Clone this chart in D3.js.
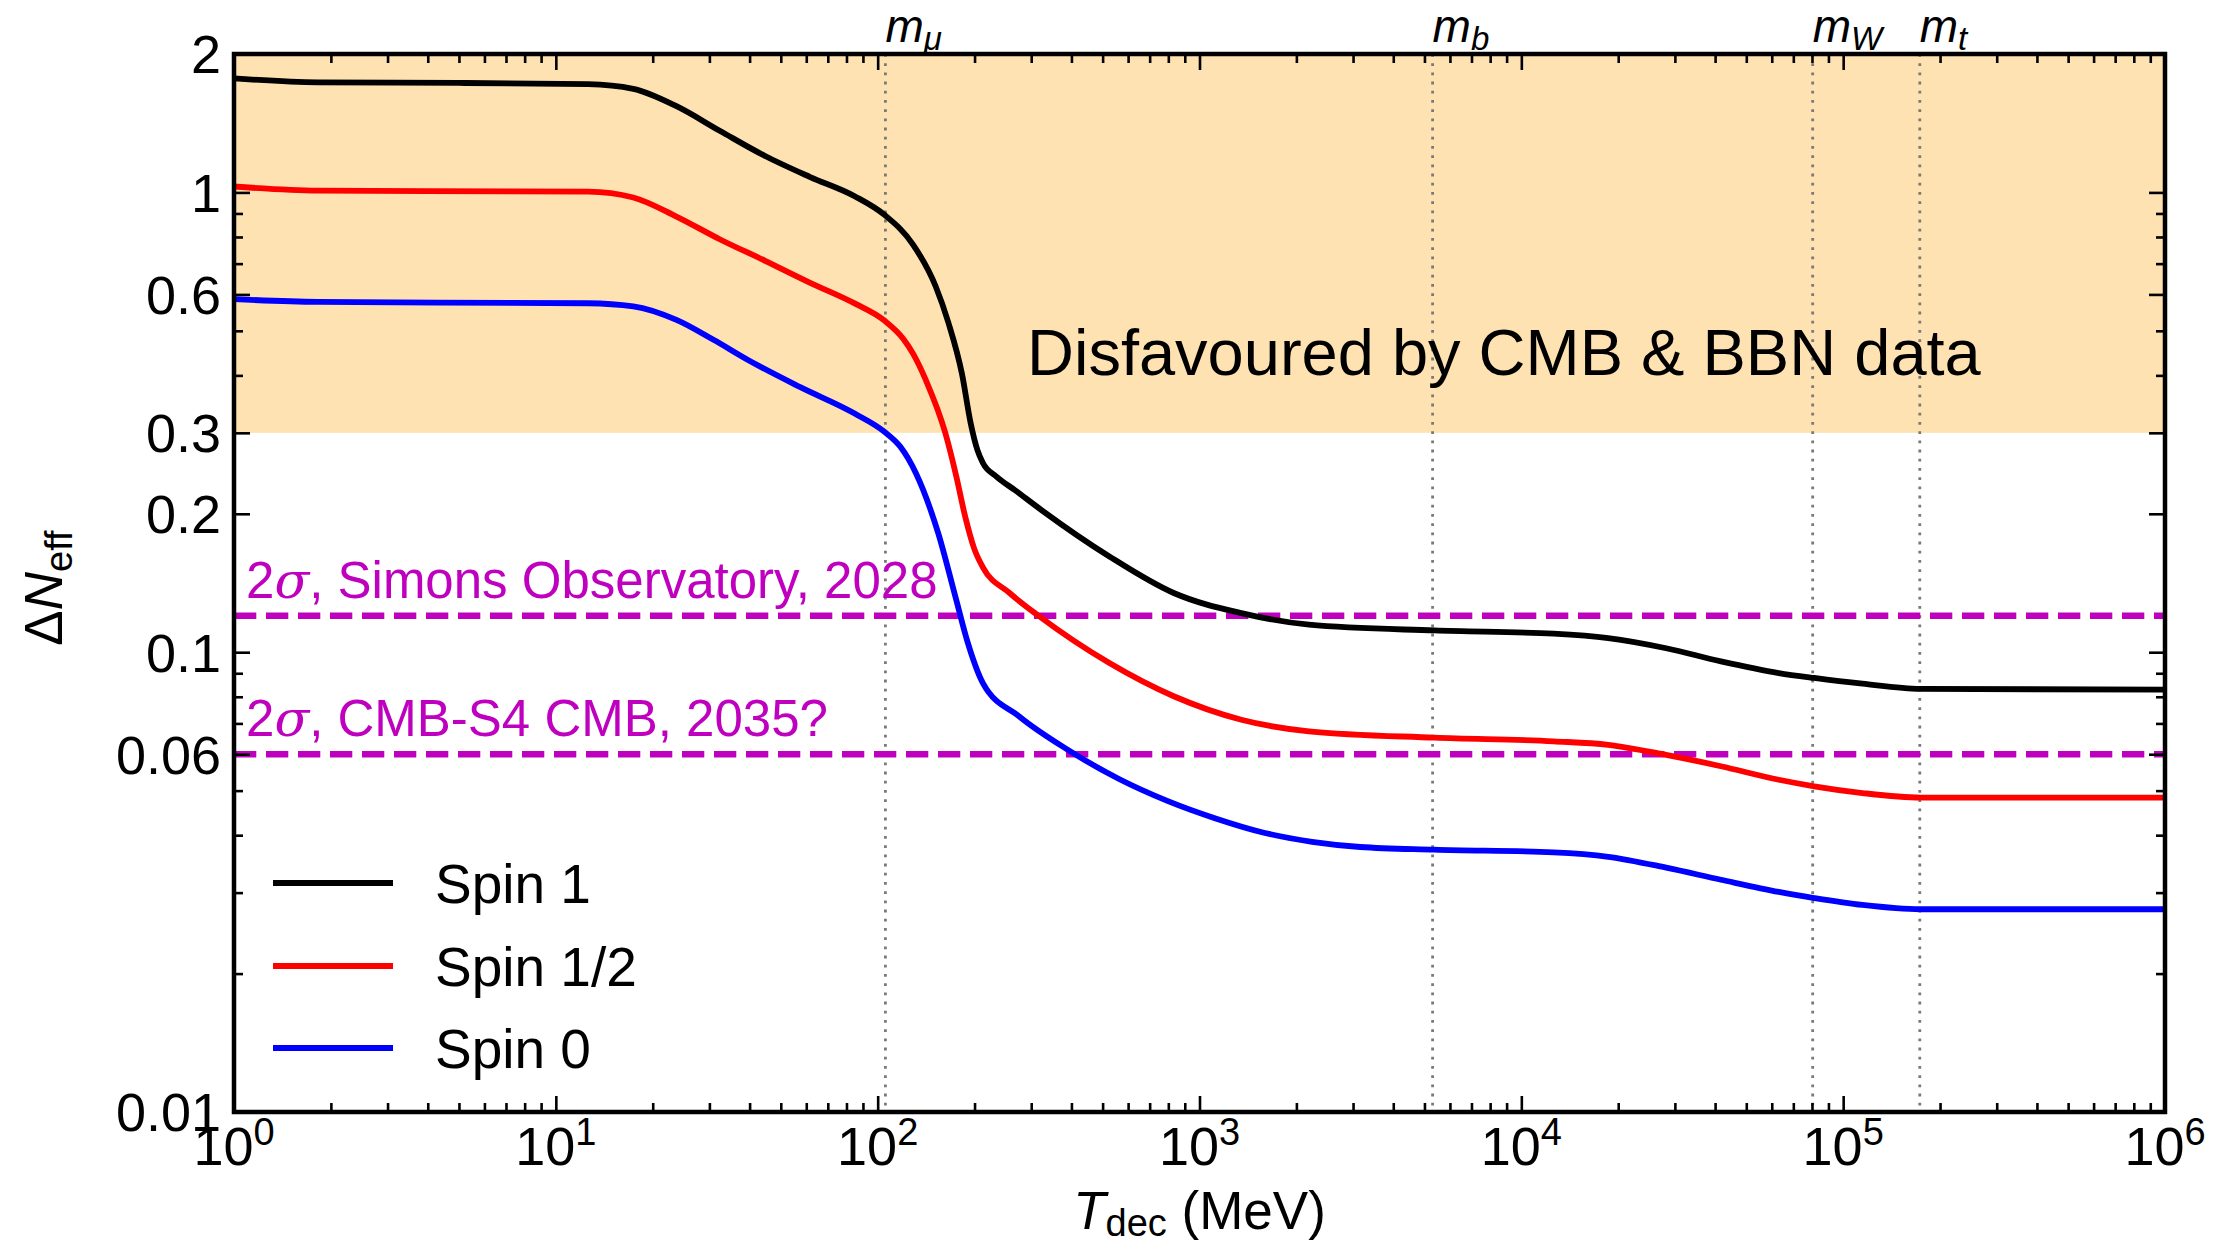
<!DOCTYPE html>
<html><head><meta charset="utf-8">
<script src="https://cdn.jsdelivr.net/npm/d3@7"></script>
<style>body{margin:0;background:#fff} svg{display:block}</style>
</head><body><svg id="c" width="2222" height="1244"></svg>
<script>
// ---------- data ----------
const seriesNames = ["Spin 1", "Spin 1/2", "Spin 0"];
const seriesColors = ["#000000", "#ff0000", "#0000ff"];

const spin1T = [1, 1.82, 5, 12.6, 17.4, 23.7, 32.4, 44.7, 61.7, 85.1, 104.7, 128.8, 151.4, 166, 182.8, 194.5, 204.2, 212.3, 233.9, 267.3, 322.1, 524.8, 831.8, 1349, 2188, 5370, 12590, 18620, 28180, 41690, 63100, 81280, 114800, 173800, 1000000];
const spin1V = [1.77, 1.735, 1.73, 1.72, 1.68, 1.54, 1.36, 1.2, 1.08, 0.98, 0.895, 0.77, 0.625, 0.52, 0.403, 0.315, 0.275, 0.258, 0.241, 0.225, 0.204, 0.1615, 0.1345, 0.1216, 0.1148, 0.1115, 0.1097, 0.1073, 0.102, 0.0955, 0.0901, 0.0879, 0.0854, 0.0832, 0.0829];

const spinHalfT = [1, 1.82, 12.6, 17.4, 23.7, 32.4, 44.7, 61.7, 85.1, 104.7, 120.2, 128.8, 141.3, 162.2, 175.8, 187.1, 199.5, 212.3, 257, 316.2, 524.8, 831.8, 1349, 2188, 5370, 12590, 18620, 28180, 41690, 63100, 81280, 114800, 173800, 1000000];
const spinHalfV = [1.03, 1.009, 1.004, 0.975, 0.886, 0.79, 0.71, 0.636, 0.573, 0.527, 0.48, 0.446, 0.39, 0.30, 0.24, 0.197, 0.168, 0.153, 0.1345, 0.12, 0.0947, 0.0802, 0.0713, 0.0673, 0.0652, 0.064, 0.0629, 0.0598, 0.0565, 0.0528, 0.0511, 0.0494, 0.0483, 0.0483];

const spin0T = [1, 1.82, 12.6, 17.4, 23.7, 30.9, 39.8, 57.5, 85.1, 104.7, 117.5, 131.5, 154.2, 175.4, 189.7, 212.3, 275.4, 389, 562.3, 794.3, 1122, 1585, 2239, 3162, 5370, 12590, 18620, 28180, 41690, 63100, 81280, 114800, 173800, 1000000];
const spin0V = [0.586, 0.578, 0.574, 0.565, 0.528, 0.478, 0.431, 0.377, 0.33, 0.302, 0.28, 0.245, 0.1815, 0.13, 0.106, 0.0857, 0.0725, 0.0614, 0.053, 0.0475, 0.0435, 0.0405, 0.0387, 0.0377, 0.0372, 0.0367, 0.0359, 0.034, 0.032, 0.0301, 0.0292, 0.0282, 0.0276, 0.0276];

const yTickValues = [2, 1, 0.6, 0.3, 0.2, 0.1, 0.06, 0.01];
const yTickLabels = ["2", "1", "0.6", "0.3", "0.2", "0.1", "0.06", "0.01"];
const xTickValues = [1, 10, 100, 1000, 10000, 100000, 1000000];
const xTickExponents = ["0", "1", "2", "3", "4", "5", "6"];

const massNames = ["μ", "b", "W", "t"];
const massValues = [105.7, 5300, 80400, 173000];

const sensValues = [0.12, 0.06];
const sensTexts = [", Simons Observatory, 2028", ", CMB-S4 CMB, 2035?"];

const disfavouredRange = [0.3, 2];
const disfavouredText = "Disfavoured by CMB & BBN data";

// ---------- layout ----------
const W = 2222, H = 1244;
const m = {l: 234, r: 57, t: 54, b: 132};
const x = d3.scaleLog().domain([1, 1e6]).range([m.l, W - m.r]);
const y = d3.scaleLog().domain([0.01, 2]).range([H - m.b, m.t]);
const svg = d3.select("#c");
const font = "'Liberation Sans', Arial, Helvetica, sans-serif";
const magenta = "#bf00bf";

// shaded band
svg.append("rect")
  .attr("x", x(1)).attr("width", x(1e6) - x(1))
  .attr("y", y(disfavouredRange[1])).attr("height", y(disfavouredRange[0]) - y(disfavouredRange[1]))
  .attr("fill", "#fee2b1");

// dotted mass lines
svg.append("g").selectAll("line").data(massValues).join("line")
  .attr("x1", d => x(d)).attr("x2", d => x(d))
  .attr("y1", y(2)).attr("y2", y(0.01))
  .attr("stroke", "#7a7a7a").attr("stroke-width", 2.8)
  .attr("stroke-dasharray", "2.8,6.4");

// dashed sensitivity lines
svg.append("g").selectAll("line").data(sensValues).join("line")
  .attr("x1", x(1)).attr("x2", x(1e6))
  .attr("y1", d => y(d)).attr("y2", d => y(d))
  .attr("stroke", magenta).attr("stroke-width", 6.5)
  .attr("stroke-dasharray", "22.3,9.7");

// curves
const series = [
  {T: spin1T, V: spin1V},
  {T: spinHalfT, V: spinHalfV},
  {T: spin0T, V: spin0V}
];
const line = d3.line().x(d => x(d[0])).y(d => y(d[1])).curve(d3.curveMonotoneX);
series.forEach((s, i) => {
  const pts = s.T.map((t, k) => [t, s.V[k]]);
  svg.append("path").datum(pts).attr("d", line)
    .attr("fill", "none").attr("stroke", seriesColors[i]).attr("stroke-width", 5.8)
    .attr("stroke-linejoin", "round");
});

// ticks
function minorTicks(lo, hi) {
  const out = [];
  for (let e = Math.floor(Math.log10(lo)); e <= Math.ceil(Math.log10(hi)); e++) {
    for (let k = 1; k <= 9; k++) {
      const v = k * Math.pow(10, e);
      if (v >= lo * 0.999 && v <= hi * 1.001) out.push(v);
    }
  }
  return out;
}
const xMinor = minorTicks(1, 1e6).filter(v => !xTickValues.some(t => Math.abs(t - v) / t < 1e-6));
const yMinor = minorTicks(0.01, 2).filter(v => !yTickValues.some(t => Math.abs(t - v) / t < 1e-6));
const MAJ = 16, MIN = 9, TW = 2.6;

function addAxis(gen, transform, vals, len) {
  const g = svg.append("g").attr("transform", transform)
    .call(gen.tickValues(vals).tickSize(-len).tickFormat(""));
  g.select(".domain").remove();
  g.selectAll(".tick line").attr("stroke", "#000").attr("stroke-width", TW);
}
addAxis(d3.axisBottom(x), `translate(0,${y(0.01)})`, xTickValues, MAJ);
addAxis(d3.axisBottom(x), `translate(0,${y(0.01)})`, xMinor, MIN);
addAxis(d3.axisTop(x), `translate(0,${y(2)})`, xTickValues, MAJ);
addAxis(d3.axisTop(x), `translate(0,${y(2)})`, xMinor, MIN);
addAxis(d3.axisLeft(y), `translate(${x(1)},0)`, yTickValues, MAJ);
addAxis(d3.axisLeft(y), `translate(${x(1)},0)`, yMinor, MIN);
addAxis(d3.axisRight(y), `translate(${x(1e6)},0)`, yTickValues, MAJ);
addAxis(d3.axisRight(y), `translate(${x(1e6)},0)`, yMinor, MIN);

// frame
svg.append("rect").attr("x", x(1)).attr("y", y(2))
  .attr("width", x(1e6) - x(1)).attr("height", y(0.01) - y(2))
  .attr("fill", "none").attr("stroke", "#000").attr("stroke-width", 4.5);

// y tick labels
svg.append("g").selectAll("text").data(yTickValues).join("text")
  .attr("x", x(1) - 13).attr("y", d => y(d)).attr("dy", "0.36em")
  .attr("text-anchor", "end").attr("font-family", font).attr("font-size", 54)
  .text((d, i) => yTickLabels[i]);

// x tick labels
const xl = svg.append("g").selectAll("text").data(xTickValues).join("text")
  .attr("x", d => x(d)).attr("y", 1165)
  .attr("text-anchor", "middle").attr("font-family", font).attr("font-size", 54);
xl.append("tspan").text("10");
xl.append("tspan").attr("dy", -20).attr("font-size", 38).text((d, i) => xTickExponents[i]);

// axis titles
const xt = svg.append("text").attr("x", (x(1) + x(1e6)) / 2).attr("y", 1229)
  .attr("text-anchor", "middle").attr("font-family", font).attr("font-size", 53);
xt.append("tspan").attr("font-style", "italic").text("T");
xt.append("tspan").attr("dy", 7).attr("font-size", 38).text("dec");
xt.append("tspan").attr("dy", -7).text(" (MeV)");

const yt = svg.append("text").attr("transform", `translate(62,${(y(2) + y(0.01)) / 2 + 5}) rotate(-90)`)
  .attr("text-anchor", "middle").attr("font-family", font).attr("font-size", 53);
yt.append("tspan").text("Δ");
yt.append("tspan").attr("font-style", "italic").text("N");
yt.append("tspan").attr("dy", 10).attr("font-size", 38).text("eff");

// mass labels
const ml = svg.append("g").selectAll("text").data(massValues).join("text")
  .attr("x", d => x(d)).attr("y", 42)
  .attr("font-family", font).attr("font-size", 46).attr("font-style", "italic");
ml.append("tspan").text("m");
ml.append("tspan").attr("dy", 8).attr("font-size", 33).text((d, i) => massNames[i]);

// sensitivity labels
sensValues.forEach((v, i) => {
  const t = svg.append("text").attr("x", 246).attr("y", y(v) - 18)
    .attr("font-family", font).attr("font-size", 51).attr("fill", magenta);
  t.append("tspan").text("2");
  t.append("tspan").attr("font-style", "italic").attr("font-family", "'DejaVu Serif', serif").text("σ");
  t.append("tspan").text(sensTexts[i]);
});

// disfavoured text
svg.append("text").attr("x", 1027).attr("y", 375)
  .attr("font-family", font).attr("font-size", 65).text(disfavouredText);

// legend
const legY = [883, 966, 1048];
seriesNames.forEach((n, i) => {
  svg.append("line").attr("x1", 273).attr("x2", 393).attr("y1", legY[i]).attr("y2", legY[i])
    .attr("stroke", seriesColors[i]).attr("stroke-width", 6);
  svg.append("text").attr("x", 435).attr("y", legY[i] + 20)
    .attr("font-family", font).attr("font-size", 55).text(n);
});
</script>
</body></html>
